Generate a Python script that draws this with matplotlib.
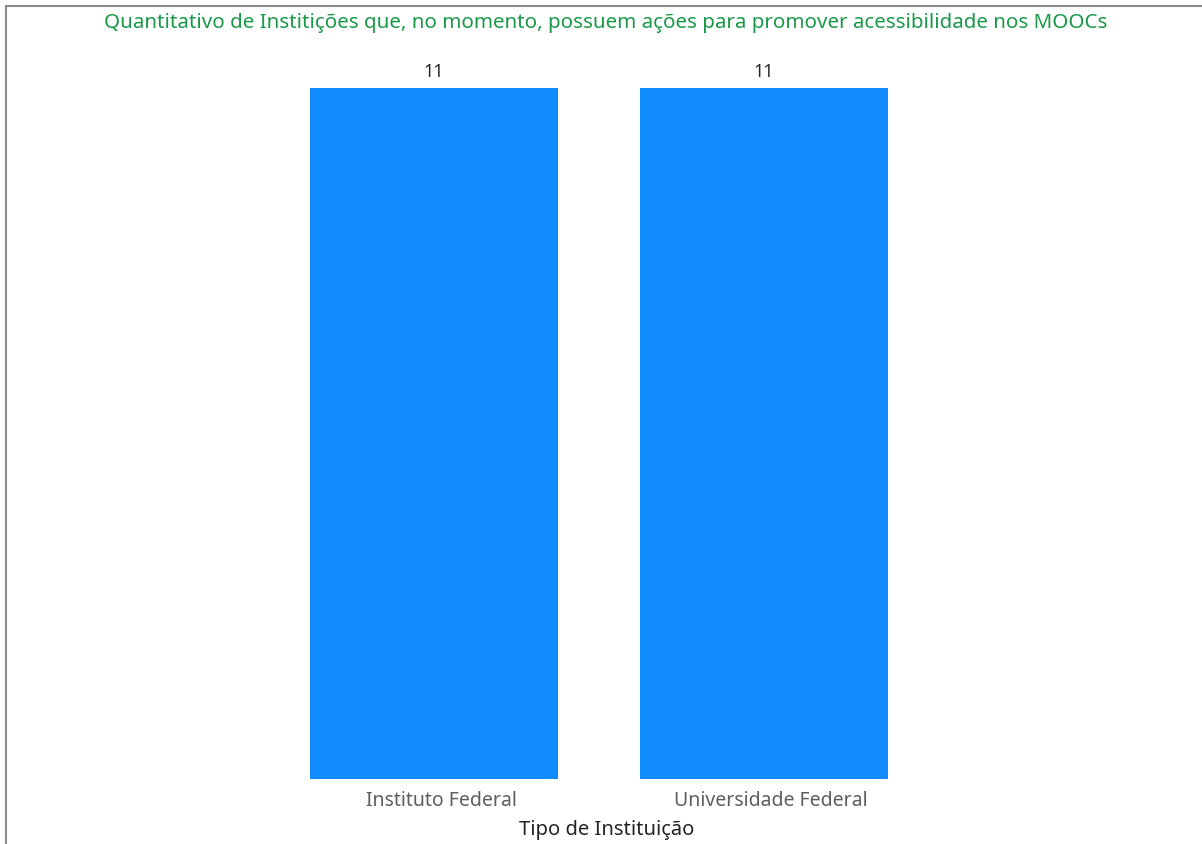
import matplotlib
matplotlib.use("Agg")
import matplotlib.pyplot as plt
import matplotlib.transforms as mtransforms
from matplotlib.lines import Line2D

# dados do gráfico
tipos = ["Instituto Federal", "Universidade Federal"]
quantidade = [11, 11]
titulo = "Quantitativo de Institições que, no momento, possuem ações para promover acessibilidade nos MOOCs"

plt.rcParams['font.family'] = ['Noto Sans', 'DejaVu Sans']

W, H = 1202, 845
fig = plt.figure(figsize=(W / 100, H / 100), dpi=100)

# moldura do visual (só topo e lado esquerdo aparecem)
fig.lines.append(Line2D([5.5 / W, 5.5 / W], [0, 1 - 6.5 / H], transform=fig.transFigure,
                        color="#8a8a8a", linewidth=1.5))
fig.lines.append(Line2D([5.5 / W, 1], [1 - 6.5 / H, 1 - 6.5 / H], transform=fig.transFigure,
                        color="#8a8a8a", linewidth=1.5))

# eixo posicionado em pixels
left, right = 269, 929
top, bottom = 89, 780
ax = fig.add_axes([left / W, 1 - bottom / H, (right - left) / W, (bottom - top) / H])

x = range(len(tipos))
bars = ax.bar(x, quantidade, width=0.75, color="#118DFF")
ax.set_xlim(-0.5, 1.5)
ax.set_ylim(0, 11)

for b, v in zip(bars, quantidade):
    ax.annotate(str(v), (b.get_x() + b.get_width() / 2, v), xytext=(0, 6),
                textcoords="offset points", ha="center", va="bottom",
                fontsize=13, color="#252423", annotation_clip=False)

ax.set_xticks(list(x))
ax.set_xticklabels(tipos, fontsize=14, color="#605E5C")
ax.tick_params(axis="x", length=0, pad=8)
ax.set_yticks([])
for s in ax.spines.values():
    s.set_visible(False)

# no Power BI os rótulos ficam um pouco deslocados para a direita
desloc = mtransforms.ScaledTranslation(7 / 100, 0, fig.dpi_scale_trans)
for lbl in ax.get_xticklabels():
    lbl.set_transform(lbl.get_transform() + desloc)

ax.set_xlabel("Tipo de Instituição", fontsize=14.5, color="#252423", labelpad=9)
ax.xaxis.set_label_coords(0.512, -0.058)

fig.text(606 / W, 1 - 23 / H, titulo,
         ha="center", va="center", fontsize=14.8, color="#1A9A48")

fig.savefig("out.png", dpi=100)
